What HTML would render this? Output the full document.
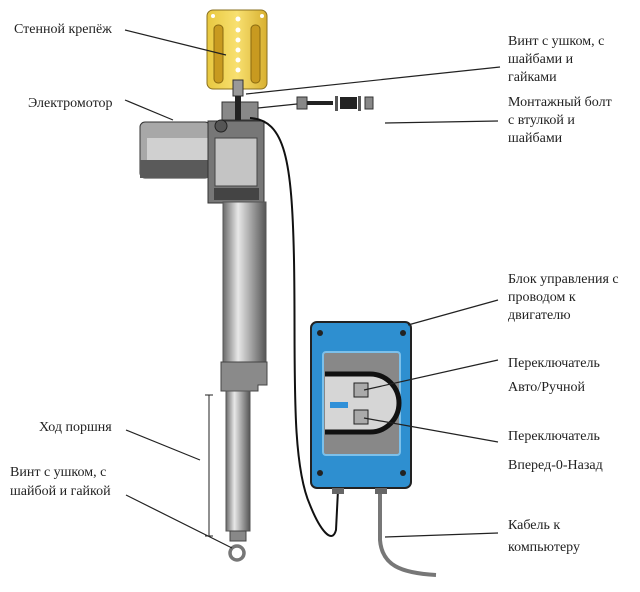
<!DOCTYPE html>
<html><head><meta charset="utf-8"><style>
html,body{margin:0;padding:0;background:#fff;}
svg{display:block;}
text{font-family:"Liberation Serif","Noto Serif CJK SC",serif;font-size:14px;fill:#222;}
</style></head><body>
<svg width="640" height="592" viewBox="0 0 640 592" xmlns="http://www.w3.org/2000/svg">
<defs>
<linearGradient id="tube" x1="0" x2="1"><stop offset="0" stop-color="#6a6a6a"/><stop offset="0.35" stop-color="#e8e8e8"/><stop offset="0.6" stop-color="#b0b0b0"/><stop offset="1" stop-color="#555"/></linearGradient>
<linearGradient id="gold" x1="0" x2="1"><stop offset="0" stop-color="#e8c840"/><stop offset="0.5" stop-color="#f8e070"/><stop offset="1" stop-color="#d8b030"/></linearGradient>
</defs>
<!-- wall bracket -->
<rect x="207" y="10" width="60" height="79" rx="6" fill="url(#gold)" stroke="#8a7020"/>
<rect x="214" y="25" width="9" height="58" rx="4" fill="#c89a20" stroke="#8a6a10"/>
<rect x="251" y="25" width="9" height="58" rx="4" fill="#c89a20" stroke="#8a6a10"/>
<g fill="#fff"><circle cx="238" cy="19" r="2.5"/><circle cx="238" cy="30" r="2.5"/><circle cx="238" cy="40" r="2.5"/><circle cx="238" cy="50" r="2.5"/><circle cx="238" cy="60" r="2.5"/><circle cx="238" cy="70" r="2.5"/><circle cx="213" cy="16" r="2"/><circle cx="262" cy="16" r="2"/></g>
<!-- eye screw / nuts -->
<rect x="233" y="80" width="10" height="16" fill="#999" stroke="#333"/>
<rect x="222" y="102" width="36" height="18" fill="#888" stroke="#333"/>
<rect x="235" y="96" width="6" height="24" fill="#222"/>
<!-- mounting bolt parts -->
<rect x="297" y="97" width="10" height="12" fill="#888" stroke="#333"/>
<rect x="307" y="101" width="26" height="4" fill="#222"/>
<rect x="335" y="96" width="3" height="15" fill="#555"/>
<rect x="340" y="97" width="17" height="12" fill="#222"/>
<rect x="358" y="96" width="3" height="15" fill="#555"/>
<rect x="365" y="97" width="8" height="12" fill="#888" stroke="#333"/>
<!-- motor -->
<rect x="140" y="122" width="70" height="56" rx="5" fill="#a8a8a8" stroke="#333"/>
<rect x="147" y="138" width="63" height="22" fill="#d0d0d0"/>
<rect x="140" y="160" width="70" height="18" fill="#5a5a5a"/>
<rect x="208" y="121" width="56" height="82" fill="#777" stroke="#333"/>
<rect x="215" y="138" width="42" height="48" fill="#c4c4c4" stroke="#444"/>
<rect x="214" y="188" width="45" height="12" fill="#444"/>
<circle cx="221" cy="126" r="6" fill="#555" stroke="#222"/>
<!-- tube -->
<rect x="223" y="202" width="43" height="160" fill="url(#tube)" stroke="#555"/>
<path d="M221 362 H267 V385 H258 V391 H221 Z" fill="#8a8a8a" stroke="#444"/>
<rect x="226" y="391" width="24" height="140" fill="url(#tube)" stroke="#555"/>
<rect x="230" y="531" width="16" height="10" fill="#888" stroke="#444"/>
<circle cx="237" cy="553" r="7" fill="none" stroke="#777" stroke-width="3.5"/>
<!-- dimension -->
<line x1="209" y1="395" x2="209" y2="536" stroke="#222"/>
<line x1="205" y1="395" x2="213" y2="395" stroke="#222"/>
<line x1="205" y1="536" x2="213" y2="536" stroke="#222"/>
<!-- black cable -->
<path d="M250 118 C285 120 292 160 294 260 C296 360 290 460 310 505 C320 530 332 545 336 530 L338 490" fill="none" stroke="#111" stroke-width="2"/>
<!-- grey cable -->
<path d="M380 490 L380 540 C382 565 400 573 436 575" fill="none" stroke="#777" stroke-width="4"/>
<!-- control box -->
<rect x="311" y="322" width="100" height="166" rx="6" fill="#2e8fd0" stroke="#222" stroke-width="2"/>
<rect x="323" y="352" width="77" height="103" rx="3" fill="#888" stroke="#7cc0ea" stroke-width="2"/>
<path d="M325 373 H370 A30 30 0 0 1 370 433 H325 Z" fill="#d6d6d6"/>
<path d="M325 374 H370 A29 29 0 0 1 370 432 H325" fill="none" stroke="#111" stroke-width="5"/>
<rect x="354" y="383" width="14" height="14" fill="#aaa" stroke="#222"/>
<rect x="354" y="410" width="14" height="14" fill="#aaa" stroke="#222"/>
<rect x="330" y="402" width="18" height="6" fill="#3090d8"/>
<g fill="#222"><circle cx="320" cy="333" r="3"/><circle cx="403" cy="333" r="3"/><circle cx="320" cy="473" r="3"/><circle cx="403" cy="473" r="3"/></g>
<rect x="332" y="488" width="12" height="6" fill="#666"/>
<rect x="375" y="488" width="12" height="6" fill="#666"/>
<!-- leader lines -->
<g stroke="#222" stroke-width="1.2">
<line x1="125" y1="30" x2="226" y2="55"/>
<line x1="125" y1="100" x2="173" y2="120"/>
<line x1="500" y1="67" x2="246" y2="94"/>
<line x1="498" y1="121" x2="385" y2="123"/>
<line x1="258" y1="108" x2="297" y2="104"/>
<line x1="498" y1="300" x2="408" y2="325"/>
<line x1="498" y1="360" x2="364" y2="390"/>
<line x1="498" y1="442" x2="364" y2="418"/>
<line x1="498" y1="533" x2="385" y2="537"/>
<line x1="126" y1="430" x2="200" y2="460"/>
<line x1="126" y1="495" x2="232" y2="548"/>
</g>
<!-- labels -->
<text x="14" y="33">Стенной крепёж</text>
<text x="28" y="107">Электромотор</text>
<text x="508" y="45">Винт с ушком, с</text>
<text x="508" y="63">шайбами и</text>
<text x="508" y="81">гайками</text>
<text x="508" y="106">Монтажный болт</text>
<text x="508" y="124">с втулкой и</text>
<text x="508" y="142">шайбами</text>
<text x="508" y="283">Блок управления с</text>
<text x="508" y="301">проводом к</text>
<text x="508" y="319">двигателю</text>
<text x="508" y="367">Переключатель</text>
<text x="508" y="391">Авто/Ручной</text>
<text x="508" y="440">Переключатель</text>
<text x="508" y="469">Вперед-0-Назад</text>
<text x="508" y="529">Кабель к</text>
<text x="508" y="551">компьютеру</text>
<text x="39" y="431">Ход поршня</text>
<text x="10" y="476">Винт с ушком, с</text>
<text x="10" y="495">шайбой и гайкой</text>
</svg>
</body></html>
